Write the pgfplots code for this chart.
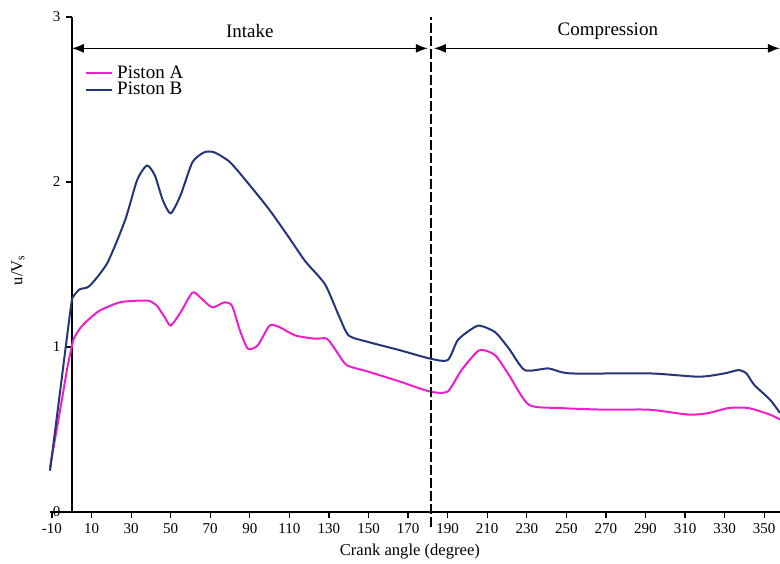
\documentclass[border=0pt]{standalone}
\usepackage{fontspec}
\setmainfont{Liberation Serif}
\usepackage{pgfplots}
\pgfplotsset{compat=1.18}
\usetikzlibrary{arrows.meta}
\definecolor{pA}{RGB}{238,30,205}
\definecolor{pB}{RGB}{38,52,120}
\begin{document}
\fontsize{7.5}{9}\selectfont
\begin{tikzpicture}
\begin{axis}[
  scale only axis, width=365pt, height=247.5pt,
  xmin=-11, xmax=358, ymin=0, ymax=3,
  axis lines=middle, axis line style={-, line width=0.8pt},
  tick align=outside, major tick length=3pt,
  xtick={-10,10,...,350}, ytick={0,1,2,3},
  hide obscured x ticks=false, hide obscured y ticks=false,
  tick style={black, line width=0.6pt},
  /pgf/number format/assume math mode=true,
  tick label style={font=\fontsize{7.5}{9}\selectfont},
  xlabel={Crank angle (degree)}, ylabel={u/V$_\mathrm{s}$},
  x label style={at={(axis description cs:0.493,0)}, anchor=center, yshift=-20pt, font=\fontsize{8.3}{10}\selectfont},
  y label style={at={(axis description cs:0,0.489)}, anchor=center, xshift=-16pt, rotate=90, font=\fontsize{8.3}{10}\selectfont},
  legend style={at={(axis description cs:0.045,0.915)}, anchor=north west, draw=none, fill=none,
    font=\fontsize{9.5}{10}\selectfont, row sep=-3pt, inner sep=1pt},
  legend cell align=left,
  legend image code/.code={\draw[#1] (0pt,0pt) -- (13pt,0pt);},
  clip=false,
]
\coordinate (sw) at (rel axis cs:0,0);
\coordinate (ne) at (rel axis cs:1,1);
\addplot[pA, line width=1pt, smooth, tension=0.4] coordinates {
(-11,0.27) (-6,0.61) (-2,0.89) (0,1.00) (1,1.05) (4,1.11) (7,1.15) (14,1.22) (24,1.27) (32,1.28) (39,1.28) (43,1.25)
(47,1.18) (50,1.13) (55,1.21) (61,1.33) (65,1.30) (71,1.24) (77,1.27) (81,1.25) (85,1.10)
(89,0.99) (94,1.01) (100,1.13) (105,1.12) (113,1.07) (123,1.05) (129,1.05) (134,0.97) (139,0.89)
(150,0.85) (166,0.79) (181,0.73) (190,0.73) (197,0.86) (206,0.98) (214,0.95) (221,0.83)
(231,0.65) (247,0.63) (270,0.62) (292,0.62) (312,0.59) (322,0.60) (332,0.63) (342,0.63)
(353,0.59) (358,0.56)};
\addlegendentry{Piston A}
\addplot[pB, line width=1pt, smooth, tension=0.4] coordinates {
(-11,0.25) (-6,0.72) (-2,1.10) (0,1.28) (1,1.31) (4,1.35) (9,1.37) (18,1.51) (27,1.77) (33,2.01) (38,2.10) (42,2.04)
(46,1.89) (50,1.81) (55,1.92) (61,2.12) (67,2.18) (72,2.18) (80,2.12) (90,1.98) (100,1.83)
(110,1.66) (118,1.52) (128,1.38) (135,1.19) (140,1.07) (150,1.03) (166,0.98) (181,0.93)
(190,0.92) (195,1.04) (201,1.10) (206,1.13) (214,1.09) (221,0.99) (229,0.86) (241,0.87)
(252,0.84) (292,0.84) (317,0.82) (330,0.84) (337,0.86) (341,0.84) (345,0.77) (353,0.68)
(358,0.60)};
\addlegendentry{Piston B}
\draw[dash pattern=on 5pt off 1.5pt, line width=0.8pt] (axis cs:181.5,-0.09) -- (axis cs:181.5,3);
\draw[{Latex[length=6pt,width=4.5pt]}-{Latex[length=6pt,width=4.5pt]}, line width=0.8pt]
  (axis cs:0,2.81) -- (axis cs:180,2.81);
\draw[{Latex[length=6pt,width=4.5pt]}-{Latex[length=6pt,width=4.5pt]}, line width=0.8pt]
  (axis cs:183,2.81) -- (axis cs:358,2.81);
\node[font=\fontsize{9.5}{10}\selectfont] at (axis cs:90,2.915) {Intake};
\node[font=\fontsize{9.5}{10}\selectfont] at (axis cs:271,2.915) {Compression};
\end{axis}
\pgfresetboundingbox
\useasboundingbox ([xshift=-25pt,yshift=-26pt]sw) rectangle ([yshift=8.5pt]ne);
\end{tikzpicture}
\end{document}
